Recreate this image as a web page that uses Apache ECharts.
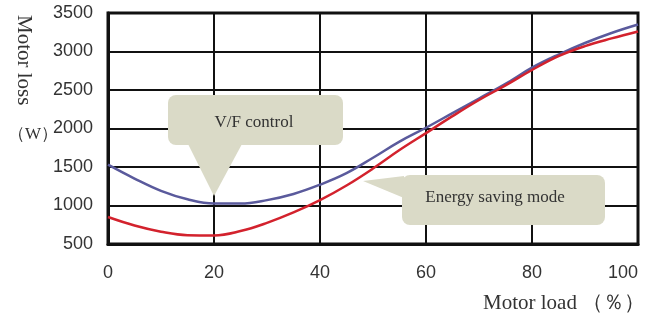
<!DOCTYPE html>
<html>
<head>
<meta charset="utf-8">
<script src="https://cdn.jsdelivr.net/npm/echarts@6/dist/echarts.min.js"></script>
<style>html,body{margin:0;padding:0;background:#fff;}#c{width:653px;height:317px;}</style>
</head>
<body>
<div id="c"></div>
<script>
const loads = [0,5,10,15,20,25,30,35,40,45,50,55,60,65,70,75,80,85,90,95,100];
const vfControl = [1530,1350,1190,1080,1025,1025,1070,1150,1270,1420,1620,1830,2010,2200,2390,2580,2790,2960,3110,3240,3350];
const energySaving = [850,740,660,615,612,668,775,910,1070,1260,1480,1720,1940,2160,2370,2560,2760,2940,3070,3170,3260];
const xTicks = [0,20,40,60,80,100];
const yTicks = [500,1000,1500,2000,2500,3000,3500];
const labels = {vf:'V/F control', es:'Energy saving mode', yName:'Motor loss', yUnit:'（W）', xName:'Motor load （％）'};

const chart = echarts.init(document.getElementById('c'), null, {renderer:'canvas'});
const serif = '"Liberation Serif", "DejaVu Serif", serif';
const sans = '"Liberation Sans", Arial, sans-serif';
const calloutFill = '#dadac7';

chart.setOption({
  animation:false,
  backgroundColor:'#fff',
  grid:{left:108,right:15,top:13,bottom:73,show:true,borderColor:'#111',borderWidth:3,backgroundColor:'transparent'},
  xAxis:{type:'value',min:xTicks[0],max:xTicks[xTicks.length-1],interval:20,
    axisLine:{show:true,lineStyle:{color:'#111',width:3}},
    axisTick:{show:false},
    splitLine:{show:true,lineStyle:{color:'#111',width:2}},
    axisLabel:{margin:20,fontSize:18,color:'#333',fontFamily:sans,alignMaxLabel:'right',formatter:v=>String(v)}},
  yAxis:{type:'value',min:yTicks[0],max:yTicks[yTicks.length-1],interval:500,
    axisLine:{show:true,lineStyle:{color:'#111',width:3}},
    axisTick:{show:false},
    splitLine:{show:true,lineStyle:{color:'#111',width:2}},
    axisLabel:{margin:15,fontSize:18,color:'#333',fontFamily:sans,padding:[0,0,8,0],formatter:v=>String(v)}},
  series:[
    {type:'line',name:labels.vf,data:loads.map((x,i)=>[x,vfControl[i]]),smooth:0.4,showSymbol:false,z:5,
     lineStyle:{color:'#5a5a9c',width:2.5}},
    {type:'line',name:labels.es,data:loads.map((x,i)=>[x,energySaving[i]]),smooth:0.4,showSymbol:false,z:6,
     lineStyle:{color:'#d3222d',width:2.5}}
  ],
  graphic:[
    {type:'text',rotation:-Math.PI/2,x:34,y:15,
     style:{text:labels.yName,font:'21px '+serif,fill:'#333'}},
    {type:'text',x:8,y:126,style:{text:labels.yUnit,font:'17px '+serif,fill:'#333'}},
    {type:'text',x:483,y:293,style:{text:labels.xName,font:'21px '+serif,fill:'#333'}},
    {type:'group',z:3,children:[
      {type:'rect',z:3,shape:{x:168,y:95,width:175,height:50,r:8},style:{fill:calloutFill}},
      {type:'polygon',z:3,shape:{points:[[188,144],[242,144],[214,196]]},style:{fill:calloutFill}},
      {type:'text',z:4,x:254,y:123,style:{text:labels.vf,font:'17px '+serif,fill:'#333',textAlign:'center',textVerticalAlign:'middle'}}
    ]},
    {type:'group',z:3,children:[
      {type:'rect',z:3,shape:{x:402,y:175,width:203,height:50,r:8},style:{fill:calloutFill}},
      {type:'polygon',z:3,shape:{points:[[363,181],[404,176],[404,198]]},style:{fill:calloutFill}},
      {type:'text',z:4,x:495,y:198,style:{text:labels.es,font:'17px '+serif,fill:'#333',textAlign:'center',textVerticalAlign:'middle'}}
    ]}
  ]
});
</script>
</body>
</html>
